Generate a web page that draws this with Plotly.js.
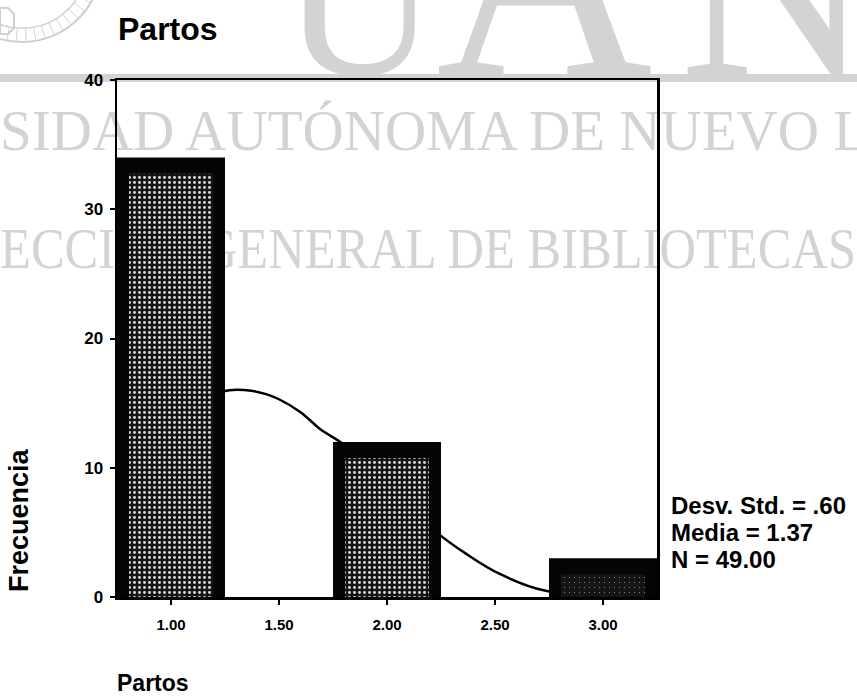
<!DOCTYPE html>
<html>
<head>
<meta charset="utf-8">
<script src="https://cdn.plot.ly/plotly-3.0.1.min.js"></script>
<style>
  html, body { margin:0; padding:0; background:#ffffff; }
  #wrap { position:relative; width:857px; height:697px; overflow:hidden; background:#ffffff; }
  #wm { position:absolute; left:0; top:0; }
  #chart { position:absolute; left:0; top:0; width:857px; height:697px; }
</style>
</head>
<body>
<div id="wrap">
  <svg id="wm" width="857" height="697" xmlns="http://www.w3.org/2000/svg"></svg>
  <div id="chart"></div>
</div>
<script>
// ---- data ----
const binCenters = [1.0, 2.0, 3.0];
const frequencies = [34, 12, 3];
const curveX = [0.75, 1.0, 1.24, 1.35, 1.44, 1.5, 1.6, 1.69, 1.8, 2.0, 2.23, 2.37, 2.52, 2.73, 3.0, 3.25];
const curveY = [9.6, 13.5, 15.9, 16.0, 15.7, 15.3, 14.3, 13.0, 11.8, 8.8, 5.0, 3.3, 1.8, 0.5, 0.2, 0.1];
const xTickVals = [1, 1.5, 2, 2.5, 3];
const xTickText = ['1.00', '1.50', '2.00', '2.50', '3.00'];
const yTickVals = [0, 10, 20, 30, 40];
const yTickText = ['0', '10', '20', '30', '40'];
const statsLines = ['Desv. Std. = .60', 'Media = 1.37', 'N = 49.00'];
const chartTitle = 'Partos';
const xTitle = 'Partos';
const yTitle = 'Frecuencia';
const watermarkLines = ['SIDAD AUTÓNOMA DE NUEVO L', 'ECCIÓN GENERAL DE BIBLIOTECAS'];
const watermarkBig = ['U', 'A', 'N'];

// ---- background watermark (decorative, real text) ----
(function () {
  const NS = 'http://www.w3.org/2000/svg';
  const root = document.getElementById('wm');
  const gray = '#d3d3d3';
  function el(parent, tag, attrs, text) {
    const e = document.createElementNS(NS, tag);
    for (const k in attrs) e.setAttribute(k, attrs[k]);
    if (text !== undefined) e.textContent = text;
    parent.appendChild(e);
    return e;
  }
  // seal at top-left
  const cx = 22, cy = -38, r1 = 80, r2 = 66;
  el(root, 'circle', {cx: cx, cy: cy, r: r1, fill: 'none', stroke: '#cfcfcf', 'stroke-width': 2});
  el(root, 'circle', {cx: cx, cy: cy, r: r2, fill: 'none', stroke: '#cfcfcf', 'stroke-width': 1.5});
  for (let a = 10; a < 180; a += 7) {
    const t = a * Math.PI / 180;
    el(root, 'line', {x1: cx + r2 * Math.cos(t), y1: cy + r2 * Math.sin(t),
                x2: cx + r1 * Math.cos(t), y2: cy + r1 * Math.sin(t),
                stroke: '#d6d6d6', 'stroke-width': 1});
  }
  el(root, 'polygon', {points: '0,8 8,8 14,14 14,28 8,34 0,34', fill: 'none', stroke: '#cfcfcf', 'stroke-width': 2});
  // gray band
  el(root, 'rect', {x: 0, y: 74, width: 857, height: 8, fill: gray});
  // big letters at top, clipped to the strip above the band
  const top = el(root, 'svg', {x: 0, y: 0, width: 857, height: 74, overflow: 'hidden'});
  el(top, 'text', {x: 282, y: 74, 'font-family': 'Liberation Serif', 'font-size': 215, fill: gray}, watermarkBig[0]);
  el(top, 'text', {x: 436, y: 74, 'font-family': 'Liberation Serif', 'font-size': 300, fill: gray}, watermarkBig[1]);
  el(top, 'text', {x: 680, y: 74, 'font-family': 'Liberation Serif', 'font-size': 265, fill: gray}, watermarkBig[2]);
  // two watermark lines
  el(root, 'text', {x: 0, y: 150, 'font-family': 'Liberation Serif', 'font-size': 56, fill: gray,
              textLength: 868, lengthAdjust: 'spacingAndGlyphs'}, watermarkLines[0]);
  el(root, 'text', {x: 0, y: 268, 'font-family': 'Liberation Serif', 'font-size': 58, fill: gray,
              textLength: 856, lengthAdjust: 'spacingAndGlyphs'}, watermarkLines[1]);
})();

// ---- chart ----
const FONT = 'Liberation Sans, Arial, sans-serif';
const M = {l: 117, r: 200, t: 80, b: 100};
const plotW = 857 - M.l - M.r, plotH = 697 - M.t - M.b;
const px2x = function (px) { return (px - M.l) / plotW; };
const px2y = function (py) { return (697 - M.b - py) / plotH; };

const yRange = [0, 40];
const insetUnits = 1.25;              // top inset of the speckled fill (axis offset)
const xRange = [0.75, 3.25];
const pxPerUnitX = plotW / (xRange[1] - xRange[0]);
const outerWidth = 0.5;
const innerWidth = 0.5 - 2 * 12 / pxPerUnitX;

const curveTrace = {
  type: 'scatter', mode: 'lines',
  x: curveX, y: curveY,
  xaxis: 'x', yaxis: 'y',
  line: {color: '#000000', width: 2.5, shape: 'spline'},
  hoverinfo: 'skip', showlegend: false
};

const barOuter = {
  type: 'bar',
  x: binCenters, y: frequencies,
  xaxis: 'x', yaxis: 'y2',
  width: outerWidth,
  marker: {color: '#050505', line: {width: 0}},
  hoverinfo: 'skip', showlegend: false
};

const barInner = {
  type: 'bar',
  x: binCenters, y: frequencies,
  xaxis: 'x', yaxis: 'y3',
  width: innerWidth,
  marker: {
    color: '#111111',
    line: {width: 0},
    pattern: {shape: '.', fillmode: 'replace', bgcolor: '#151515', fgcolor: '#d8d8d8',
              size: 5, solidity: [0.28, 0.28, 0.03]}
  },
  hoverinfo: 'skip', showlegend: false
};

const layout = {
  width: 857, height: 697,
  margin: M,
  paper_bgcolor: 'rgba(0,0,0,0)',
  plot_bgcolor: 'rgba(0,0,0,0)',
  font: {family: FONT, color: '#000000'},
  showlegend: false,
  barmode: 'overlay',
  title: {text: chartTitle, x: 118 / 857, xanchor: 'left', xref: 'container',
          y: 1 - 18 / 697, yanchor: 'top', yref: 'container',
          font: {family: FONT, size: 32, weight: 'bold', color: '#000'}},
  xaxis: {
    range: xRange, tickmode: 'array', tickvals: xTickVals, ticktext: xTickText,
    ticks: 'outside', ticklen: 5, tickwidth: 2, tickcolor: '#000',
    showline: true, linewidth: 2.5, linecolor: '#000', mirror: true,
    showgrid: false, zeroline: false,
    tickfont: {family: FONT, size: 15, weight: 'bold', color: '#000'},
    ticklabelstandoff: 7
  },
  yaxis: {
    range: yRange, tickmode: 'array', tickvals: yTickVals, ticktext: yTickText,
    ticks: 'outside', ticklen: 5, tickwidth: 2, tickcolor: '#000',
    showline: true, linewidth: 2.5, linecolor: '#000', mirror: true,
    showgrid: false, zeroline: false,
    tickfont: {family: FONT, size: 17, weight: 'bold', color: '#000'},
    ticklabelstandoff: 3
  },
  yaxis2: {range: yRange, overlaying: 'y', visible: false, showgrid: false, zeroline: false},
  yaxis3: {range: [yRange[0] + insetUnits, yRange[1] + insetUnits], overlaying: 'y', visible: false,
           showgrid: false, zeroline: false},
  annotations: [
    {text: xTitle, xref: 'paper', yref: 'paper', x: px2x(115), y: px2y(668),
     xanchor: 'left', yanchor: 'top', showarrow: false,
     font: {family: FONT, size: 23, weight: 'bold', color: '#000'}},
    {text: yTitle, xref: 'paper', yref: 'paper', x: px2x(19), y: px2y(520),
     xanchor: 'center', yanchor: 'middle', textangle: -90, showarrow: false,
     font: {family: FONT, size: 27, weight: 'bold', color: '#000'}}
  ]
};

const statsCenters = [505, 532, 559];
statsLines.forEach(function (s, i) {
  layout.annotations.push({
    text: s, xref: 'paper', yref: 'paper', x: px2x(669), y: px2y(statsCenters[i]),
    xanchor: 'left', yanchor: 'middle', align: 'left', showarrow: false,
    font: {family: FONT, size: 24, weight: 'bold', color: '#000'}
  });
});

Plotly.newPlot('chart', [curveTrace, barOuter, barInner], layout, {displayModeBar: false, staticPlot: true});
</script>
</body>
</html>
